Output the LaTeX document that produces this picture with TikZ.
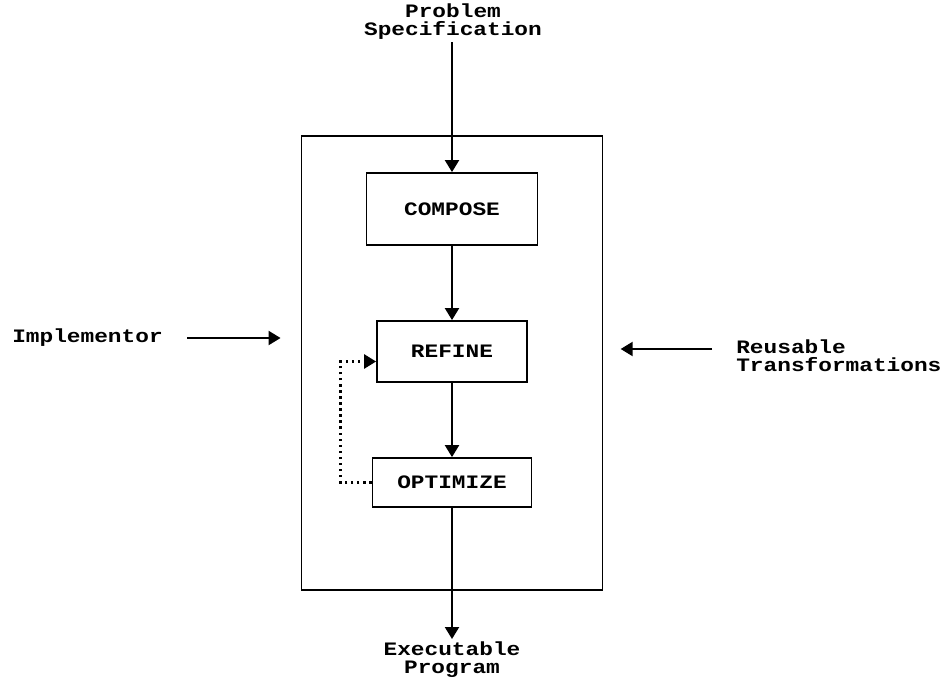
\documentclass[tikz,border=0pt]{standalone}
\usepackage{fontspec}
\setmainfont{Liberation Mono}[FakeStretch=1.2]
\usetikzlibrary{arrows.meta,positioning}

\begin{document}
\begin{tikzpicture}[x=0.025cm, y=-0.025cm, >={Triangle[width=10pt,length=8.5pt]}, line width=1.3pt]
    \tikzset{
        txt/.style={font=\bfseries\fontsize{13.5}{13}\selectfont, inner sep=1pt},
        stage/.style={txt, draw, line width=1.3pt}
    }
    \useasboundingbox (0,0) rectangle (946,684);

    % Outer frame and the three stages
    \node[draw, line width=1.3pt, minimum width=7.525cm, minimum height=11.35cm] (env) at (452,363) {};
    \node[stage, minimum width=4.275cm, minimum height=1.8cm] (compose) at (452,209) {COMPOSE};
    \node[stage, minimum width=3.75cm, minimum height=1.525cm] (refine) at (452,351.5) {REFINE};
    \node[stage, minimum width=3.975cm, minimum height=1.225cm] (optimize) at (452,482.5) {OPTIMIZE};

    % Outside labels
    \node[txt, align=center, anchor=south] (prob) at (453,42) {Problem\\Specification};
    \node[txt, align=center, anchor=north] (exec) at (452,639) {Executable\\Program};
    \node[txt, anchor=west] (impl) at (10,338) {Implementor};
    \node[txt, align=left, anchor=west] (reuse) at (734,356) {Reusable\\Transformations};

    % Flow through the stages
    \draw[->] (prob.south -| compose) -- (compose.north);
    \draw[->] (compose) -- (refine.north);
    \draw[->] (refine) -- (optimize.north);
    \draw[->] (optimize) -- (optimize |- exec.north);

    % Side inputs
    \draw[->, shorten <=0.55cm, shorten >=0.5cm] (impl) -- (impl -| env.west);
    \draw[->, shorten <=0.55cm, shorten >=0.43cm] (reuse.west |- 0,349) -- (env.east |- 0,349);

    % Feedback loop
    \draw[line width=1.7pt, dash pattern=on 1.7pt off 2.6pt, ->] (optimize.west) -- ++(-31,0) |- ([yshift=-0.25cm]refine.west);
\end{tikzpicture}
\end{document}
